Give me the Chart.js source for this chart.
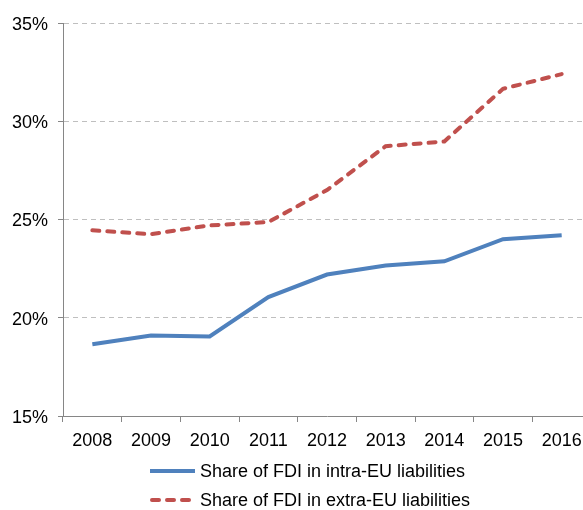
<!DOCTYPE html>
<html>
<head>
<meta charset="utf-8">
<script src="https://cdn.jsdelivr.net/npm/chart.js@4/dist/chart.umd.min.js"></script>
<style>
html,body{margin:0;padding:0;overflow:hidden;background:#fff;width:583px;height:510px;}
canvas{display:block;}
</style>
</head>
<body>
<canvas id="c" width="592" height="510"></canvas>
<script>
const years = ['2008','2009','2010','2011','2012','2013','2014','2015','2016'];
const intraEU = [18.65, 19.1, 19.05, 21.05, 22.2, 22.66, 22.87, 24.0, 24.2];
const extraEU = [24.45, 24.25, 24.7, 24.87, 26.5, 28.73, 28.97, 31.65, 32.4];
const yTicks = [15, 20, 25, 30, 35];
const seriesLabels = ['Share of FDI in intra-EU liabilities', 'Share of FDI in extra-EU liabilities'];

const FONT = '"Liberation Sans", Arial, sans-serif';

const legendPlugin = {
  id: 'customLegend',
  afterDraw(chart) {
    const ctx = chart.ctx;
    const x0 = 150, x1 = 195, tx = 200;
    const rows = [471, 500];
    chart.data.datasets.forEach((ds, i) => {
      const y = rows[i];
      ctx.save();
      ctx.strokeStyle = ds.borderColor;
      ctx.lineWidth = ds.borderWidth;
      ctx.lineCap = ds.borderCapStyle || 'butt';
      ctx.setLineDash(ds.borderDash || []);
      ctx.beginPath();
      ctx.moveTo(x0 + (ds.borderDash ? 2 : 0), y);
      ctx.lineTo(x1, y);
      ctx.stroke();
      ctx.restore();
      ctx.save();
      ctx.fillStyle = '#000';
      ctx.font = '18px ' + FONT;
      ctx.textBaseline = 'middle';
      ctx.textAlign = 'left';
      ctx.fillText(ds.label, tx, y + 1);
      ctx.restore();
    });
  }
};

new Chart(document.getElementById('c'), {
  type: 'line',
  data: {
    labels: years,
    datasets: [
      {
        label: seriesLabels[0],
        data: intraEU,
        borderColor: '#4F81BD',
        backgroundColor: '#4F81BD',
        borderWidth: 4,
        pointRadius: 0,
        tension: 0,
        fill: false
      },
      {
        label: seriesLabels[1],
        data: extraEU,
        borderColor: '#C0504D',
        backgroundColor: '#C0504D',
        borderWidth: 4,
        borderDash: [7, 8],
        borderCapStyle: 'round',
        pointRadius: 0,
        tension: 0,
        fill: false
      }
    ]
  },
  options: {
    responsive: false,
    animation: false,
    layout: { padding: { top: 23, right: 1, bottom: 59, left: 0 } },
    plugins: {
      legend: { display: false },
      tooltip: { enabled: false }
    },
    scales: {
      x: {
        offset: true,
        grid: {
          offset: true,
          drawOnChartArea: false,
          drawTicks: true,
          tickLength: 6,
          tickColor: '#868686',
          tickWidth: 1
        },
        border: { color: '#868686', width: 1 },
        ticks: {
          color: '#000',
          font: { family: FONT, size: 18 },
          padding: 8,
          maxRotation: 0,
          autoSkip: false
        },
        afterFit(scale) { scale.height = 35; }
      },
      y: {
        min: 15,
        max: 35,
        afterBuildTicks(scale) { scale.ticks = yTicks.map(v => ({ value: v })); },
        grid: {
          color: (c) => c.tick && c.tick.value === 15 ? 'rgba(0,0,0,0)' : '#BFBFBF',
          tickBorderDash: [1, 0],
          tickColor: '#868686',
          tickLength: 5,
          lineWidth: 1
        },
        border: { color: '#868686', width: 1, dash: [5, 4] },
        ticks: {
          color: '#000',
          font: { family: FONT, size: 18 },
          padding: 10,
          labelOffset: 2,
          callback: (v) => v + '%'
        },
        afterFit(scale) { scale.width = 63; }
      }
    }
  },
  plugins: [legendPlugin]
});
</script>
</body>
</html>
